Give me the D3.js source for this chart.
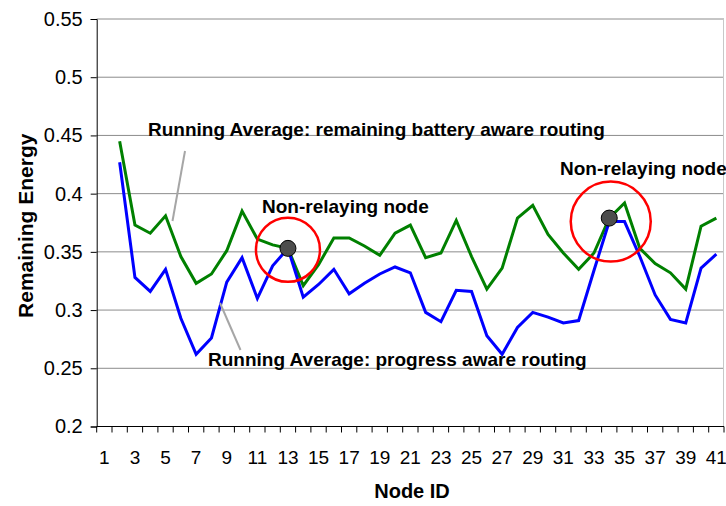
<!DOCTYPE html>
<html>
<head>
<meta charset="utf-8">
<script src="https://cdn.jsdelivr.net/npm/d3@7"></script>
<style>
  body { margin: 0; background: #fff; }
  svg text { font-family: "Liberation Sans", Arial, sans-serif; }
</style>
</head>
<body>
<svg id="chart" width="726" height="506"></svg>
<script>
"use strict";

// node ids on the category axis
const nodeIds = d3.range(1, 42);
const xTickLabels = nodeIds.filter(n => n % 2 === 1);
const yTicks = [0.2, 0.25, 0.3, 0.35, 0.4, 0.45, 0.5, 0.55];

// remaining battery aware routing (green), nodes 2..41
const batteryAware = [null,
  0.445, 0.373, 0.366, 0.381, 0.346, 0.323, 0.331, 0.351, 0.385, 0.361,
  0.356, 0.353, 0.321, 0.339, 0.362, 0.362, 0.355, 0.347, 0.366, 0.373,
  0.345, 0.349, 0.377, 0.346, 0.318, 0.336, 0.379, 0.390, 0.365, 0.349,
  0.335, 0.349, 0.379, 0.392, 0.353, 0.340, 0.332, 0.318, 0.372, 0.379];

// progress aware routing (blue), nodes 2..41
const progressAware = [null,
  0.427, 0.328, 0.316, 0.335, 0.293, 0.262, 0.276, 0.324, 0.345, 0.310,
  0.338, 0.353, 0.311, 0.322, 0.335, 0.314, 0.323, 0.331, 0.337, 0.332,
  0.298, 0.290, 0.317, 0.316, 0.278, 0.262, 0.285, 0.298, 0.294, 0.289,
  0.291, 0.334, 0.376, 0.376, 0.346, 0.313, 0.292, 0.289, 0.336, 0.348];

// non-relaying nodes (circled)
const markerNodes = [13, 34];
const markerRadius = [32, 40];

const M = { left: 96.7, right: 724, top: 19, bottom: 426.5 };
const svg = d3.select("#chart");

const x = d3.scaleBand().domain(nodeIds).range([M.left, M.right]);
const y = d3.scaleLinear().domain([0.2, 0.55]).range([M.bottom, M.top]);
const cx = n => x(n) + x.bandwidth() / 2;

// --- grid ---
svg.append("g").selectAll("line")
  .data(yTicks.filter(t => t > 0.2)).enter().append("line")
  .attr("x1", M.left).attr("x2", M.right)
  .attr("y1", d => y(d)).attr("y2", d => y(d))
  .attr("stroke", "#8c8c8c").attr("stroke-width", 1);

svg.append("line")
  .attr("x1", M.right - 0.5).attr("x2", M.right - 0.5)
  .attr("y1", M.top).attr("y2", M.bottom)
  .attr("stroke", "#c8c8c8");

// --- axes ---
const yAxis = svg.append("g")
  .attr("transform", `translate(${M.left},0)`)
  .call(d3.axisLeft(y).tickValues(yTicks).tickSize(6).tickPadding(8)
    .tickFormat(d => d3.format("")(+d.toFixed(2))));
yAxis.selectAll("text").style("font-size", "20px").attr("fill", "#000");
yAxis.selectAll("line, path").attr("stroke", "#000");

// category axis: ticks sit on band boundaries, labels on odd nodes
const xAxis = svg.append("g").attr("transform", `translate(0,${M.bottom})`);
xAxis.append("line")
  .attr("x1", M.left).attr("x2", M.right).attr("stroke", "#000");
xAxis.selectAll(".tk")
  .data(nodeIds.concat([42])).enter().append("line")
  .attr("x1", d => d === 42 ? M.right : x(d))
  .attr("x2", d => d === 42 ? M.right : x(d))
  .attr("y1", 0).attr("y2", 6).attr("stroke", "#000");
xAxis.selectAll("text")
  .data(xTickLabels).enter().append("text")
  .attr("x", d => cx(d)).attr("y", 37)
  .attr("text-anchor", "middle").style("font-size", "19px")
  .text(d => d);

// axis titles
svg.append("text")
  .attr("transform", `translate(33,${(M.top + M.bottom) / 2 + 3}) rotate(-90)`)
  .attr("text-anchor", "middle")
  .style("font-size", "21px").style("font-weight", "bold")
  .text("Remaining Energy");

svg.append("text")
  .attr("x", 412).attr("y", 498)
  .attr("text-anchor", "middle")
  .style("font-size", "20px").style("font-weight", "bold")
  .text("Node ID");

// --- series ---
const line = vals => d3.line()
  .defined((d, i) => vals[i] != null)
  .x((d, i) => cx(nodeIds[i]))
  .y((d, i) => y(vals[i]))(vals);

svg.append("path").attr("d", line(batteryAware))
  .attr("fill", "none").attr("stroke", "#008000").attr("stroke-width", 3)
  .attr("stroke-linejoin", "miter");
svg.append("path").attr("d", line(progressAware))
  .attr("fill", "none").attr("stroke", "#0000ff").attr("stroke-width", 3)
  .attr("stroke-linejoin", "miter");

// --- annotations ---
const ann = svg.append("g").style("font-weight", "bold").style("font-size", "19px");

ann.append("line").attr("x1", 185).attr("y1", 151).attr("x2", 172.5).attr("y2", 221)
  .attr("stroke", "#a6a6a6").attr("stroke-width", 2);
ann.append("line").attr("x1", 220).attr("y1", 303).attr("x2", 240.5).attr("y2", 350)
  .attr("stroke", "#a6a6a6").attr("stroke-width", 2);

ann.append("text").attr("x", 148).attr("y", 136)
  .text("Running Average: remaining battery aware routing");
ann.append("text").attr("x", 208).attr("y", 366)
  .text("Running Average: progress aware routing");

markerNodes.forEach((n, i) => {
  const px = cx(n), py = y(batteryAware[n - 1]);
  ann.append("circle").attr("cx", px + i * 1.5).attr("cy", py + 1.5 + i * 2)
    .attr("r", markerRadius[i])
    .attr("fill", "none").attr("stroke", "#ff0000").attr("stroke-width", 2.5);
  ann.append("circle").attr("cx", px).attr("cy", py).attr("r", 8)
    .attr("fill", "#4d4d4d").attr("stroke", "#000").attr("stroke-width", 1);
});

ann.append("text").attr("x", 262).attr("y", 213).text("Non-relaying node");
ann.append("text").attr("x", 560).attr("y", 175).text("Non-relaying node");
</script>
</body>
</html>
